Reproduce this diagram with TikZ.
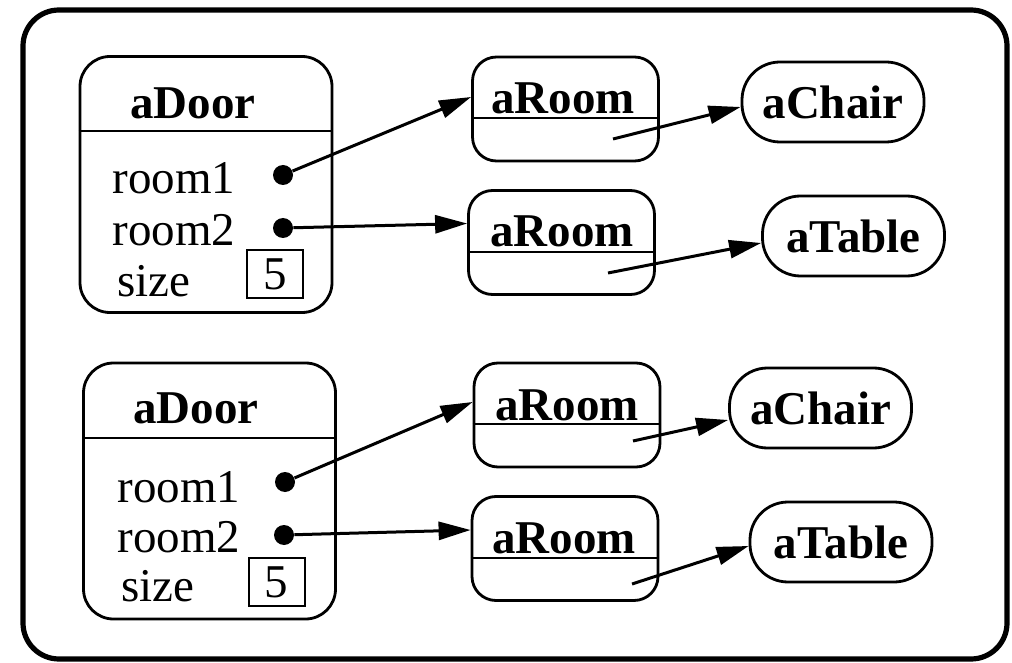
\documentclass[tikz,border=0pt]{standalone}
\usepackage{fontspec}
\setmainfont{Liberation Serif}
\usetikzlibrary{positioning,arrows.meta}
\tikzset{
    base/.style={font=\fontsize{23.5}{28}\selectfont, inner sep=0pt},
    object/.style={base, rectangle, rounded corners=15pt, draw, line width=1.4pt,
                   minimum width=126pt, minimum height=128pt},
    room/.style={base, rectangle, rounded corners=12pt, draw, line width=1.4pt,
                 minimum width=93pt, minimum height=52pt},
    thing/.style={base, rectangle, rounded corners=19pt, draw, line width=1.4pt,
                  minimum width=91pt, minimum height=40pt,
                  font=\fontsize{23.5}{28}\selectfont\bfseries},
    title/.style={base, font=\fontsize{23.5}{28}\selectfont\bfseries},
    slot/.style={base, anchor=base west},
    valuebox/.style={base, draw, line width=1pt, minimum width=28pt, minimum height=24pt},
    dot/.style={circle, fill, inner sep=0pt, minimum size=10pt},
    divider/.style={line width=1.4pt},
    link/.style={-{Triangle[length=16pt,width=9pt]}, line width=1.5pt},
    frame/.style={line width=2.6pt, rounded corners=18pt}
}

\begin{document}
\begin{tikzpicture}[x=0.5pt, y=-0.5pt]
  \useasboundingbox (0,0) rectangle (1012,663);
  \draw[frame] (23,10) rectangle (1007,659);

  % Upper door with its rooms
  \node[object] (door1) at (206,184.5) {};
  \draw[divider] (door1.west |- 0,131) -- (door1.east |- 0,131);
  \node[title] (door1name) at (193,103) {aDoor};
  \node[slot] (door1r1) at (112,194) {room1};
  \node[slot] (door1r2) at (112,246) {room2};
  \node[slot] (door1sz) at (117,297) {size};
  \node[dot] (door1d1) at (283,175) {};
  \node[dot] (door1d2) at (283,228) {};
  \node[valuebox] (door1v) at (275,274.5) {5};

  \node[room] (rA1) at (565.5,109) {};
  \draw[divider] (rA1.west |- 0,118) -- (rA1.east |- 0,118);
  \node[title, anchor=base] (rA1name) at (563,114) {aRoom};
  \node[room] (rB1) at (561.5,242.5) {};
  \draw[divider] (rB1.west |- 0,252) -- (rB1.east |- 0,252);
  \node[title, anchor=base] (rB1name) at (562,247) {aRoom};

  \node[thing] (chair1) at (833,102) {aChair};
  \node[thing] (table1) at (853.5,236) {aTable};

  \coordinate (rA1p) at (613,139);
  \coordinate (rB1p) at (608,273);
  \draw[link] (door1d1) -- ([yshift=6pt]rA1.west);
  \draw[link] (door1d2) -- ([yshift=9.5pt]rB1.west);
  \draw[link] (rA1p) -- ([yshift=-2.5pt]chair1.west);
  \draw[link] (rB1p) -- ([yshift=-3.5pt]table1.west);

  % Lower door with its rooms
  \node[object] (door2) at (209.5,491) {};
  \draw[divider] (door2.west |- 0,438) -- (door2.east |- 0,438);
  \node[title] (door2name) at (196,408) {aDoor};
  \node[slot] (door2r1) at (117,502) {room1};
  \node[slot] (door2r2) at (117,552) {room2};
  \node[slot] (door2sz) at (121,601) {size};
  \node[dot] (door2d1) at (285,482) {};
  \node[dot] (door2d2) at (284,535) {};
  \node[valuebox] (door2v) at (276.5,582) {5};

  \node[room] (rA2) at (567,415) {};
  \draw[divider] (rA2.west |- 0,424) -- (rA2.east |- 0,424);
  \node[title, anchor=base] (rA2name) at (567,420) {aRoom};
  \node[room] (rB2) at (565,548.5) {};
  \draw[divider] (rB2.west |- 0,558) -- (rB2.east |- 0,558);
  \node[title, anchor=base] (rB2name) at (564,553) {aRoom};

  \node[thing] (chair2) at (820.5,408) {aChair};
  \node[thing] (table2) at (841,542) {aTable};

  \coordinate (rA2p) at (633,441);
  \coordinate (rB2p) at (632,584);
  \draw[link] (door2d1) -- ([yshift=6.5pt]rA2.west);
  \draw[link] (door2d2) -- ([yshift=9.25pt]rB2.west);
  \draw[link] (rA2p) -- ([yshift=-6pt]chair2.west);
  \draw[link] (rB2p) -- ([yshift=-2pt]table2.west);
\end{tikzpicture}
\end{document}
